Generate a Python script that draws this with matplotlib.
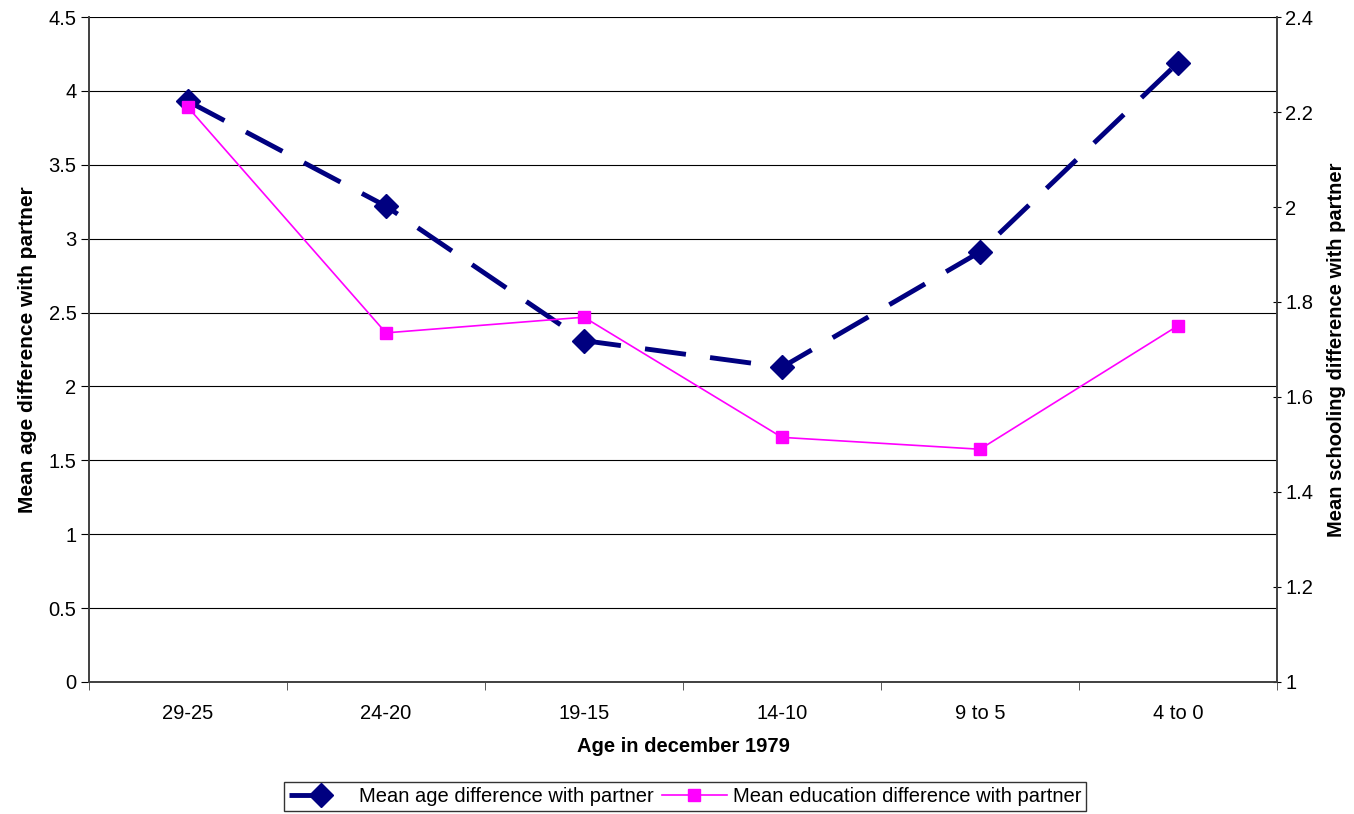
import numpy as np
import matplotlib
matplotlib.use("Agg")
import matplotlib.pyplot as plt
from matplotlib.ticker import FixedLocator

plt.rcParams['font.family'] = ['Liberation Sans', 'DejaVu Sans']

categories = ['29-25', '24-20', '19-15', '14-10', '9 to 5', '4 to 0']
age_diff = [3.93, 3.22, 2.31, 2.13, 2.91, 4.19]
edu_diff = [2.21, 1.735, 1.768, 1.515, 1.49, 1.75]

fig = plt.figure(figsize=(13.54, 8.14), dpi=100)
ax = fig.add_axes([0.0657, 0.1622, 0.8774, 0.8169])
ax2 = ax.twinx()

x = np.arange(len(categories))

ax.plot(x, age_diff, color='#000080', lw=3.5, dashes=(8.5, 5),
        marker='D', markersize=12, label='Mean age difference with partner', zorder=3)
ax2.plot(x, edu_diff, color='#FF00FF', lw=1.2,
         marker='s', markersize=8, label='Mean education difference with partner', zorder=3)

ax.set_xlim(-0.5, len(categories) - 0.5)
ax.set_ylim(0, 4.5)
ax2.set_ylim(1, 2.4)
ax.set_yticks([0, 0.5, 1, 1.5, 2, 2.5, 3, 3.5, 4, 4.5])
ax.set_yticklabels(['0', '0.5', '1', '1.5', '2', '2.5', '3', '3.5', '4', '4.5'])
ax2.set_yticks([1, 1.2, 1.4, 1.6, 1.8, 2, 2.2, 2.4])
ax2.set_yticklabels(['1', '1.2', '1.4', '1.6', '1.8', '2', '2.2', '2.4'])

ax.set_xticks(x)
ax.set_xticklabels(categories)
ax.xaxis.set_minor_locator(FixedLocator(np.arange(-0.5, len(categories), 1)))
ax.tick_params(axis='x', which='major', length=0, pad=16, labelsize=14.5)
ax.tick_params(axis='x', which='minor', length=6, direction='out', color='#404040')
ax.tick_params(axis='y', length=6, direction='out', labelsize=14.5, pad=3)
ax2.tick_params(axis='y', length=6, direction='inout', labelsize=14.5, pad=3)

ax.grid(axis='y', color='black', lw=0.8)
ax.set_axisbelow(True)

for a in (ax, ax2):
    a.spines['top'].set_visible(False)
    for s in ('left', 'right', 'bottom'):
        a.spines[s].set_color('#404040')
        a.spines[s].set_linewidth(1.2)

ax.set_xlabel('Age in december 1979', fontsize=14.5, fontweight='bold', labelpad=10)
ax.set_ylabel('Mean age difference with partner', fontsize=15, fontweight='bold', labelpad=8)
ax2.set_ylabel('Mean schooling difference with partner', fontsize=14.5, fontweight='bold', labelpad=10)

h1, l1 = ax.get_legend_handles_labels()
h2, l2 = ax2.get_legend_handles_labels()
leg = fig.legend(h1 + h2, l1 + l2, loc='lower center', bbox_to_anchor=(0.506, 0.0),
                 ncol=2, fontsize=14.5, frameon=True, fancybox=False, edgecolor='black',
                 handlelength=3.2, columnspacing=0.4, handletextpad=0.3, borderpad=0.25,
                 borderaxespad=0.15)
leg.get_frame().set_linewidth(1)

fig.savefig('out.png', dpi=100)
